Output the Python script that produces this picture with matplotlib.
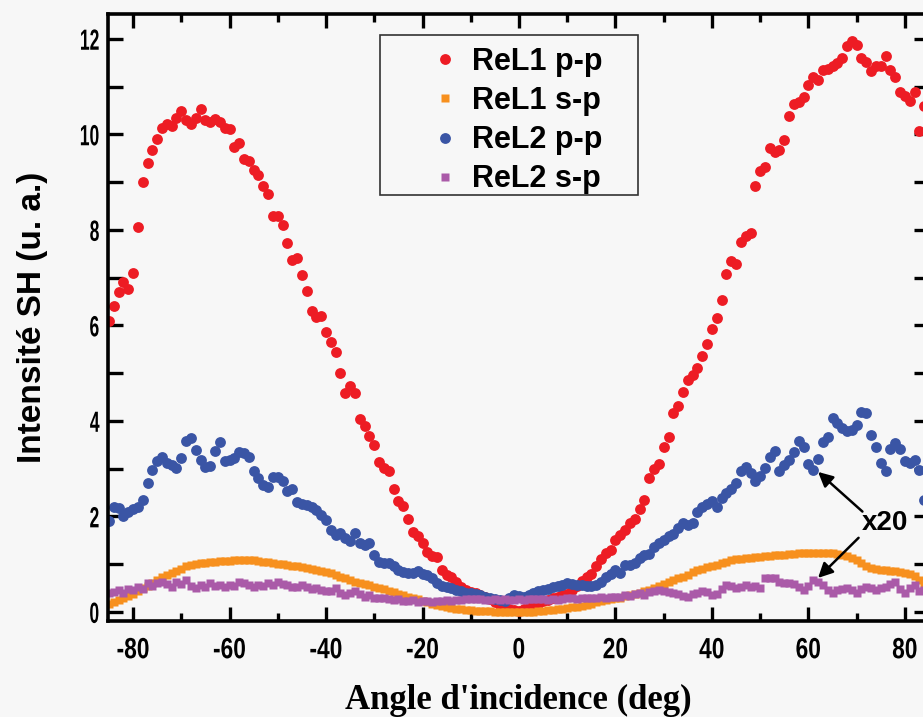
import numpy as np
import matplotlib.pyplot as plt
from matplotlib.ticker import MultipleLocator
from matplotlib.patheffects import AbstractPathEffect
from matplotlib.transforms import Affine2D
from matplotlib.patches import Rectangle

plt.rcParams['axes.unicode_minus'] = False

# data (angle grid, 1 deg step)
angle = np.arange(-85, 86, 1)

rel1_pp = [6.1, 6.4, 6.7, 6.9, 6.75, 7.1, 8.05, 9.0, 9.4, 9.67,
           9.9, 10.13, 10.21, 10.18, 10.34, 10.48, 10.29, 10.21, 10.35, 10.53,
           10.3, 10.26, 10.32, 10.26, 10.13, 10.11, 9.73, 9.81, 9.48, 9.43,
           9.26, 9.15, 8.91, 8.75, 8.28, 8.29, 8.1, 7.73, 7.36, 7.4,
           7.06, 6.71, 6.29, 6.18, 6.2, 5.86, 5.64, 5.44, 5.01, 4.58,
           4.73, 4.58, 4.04, 3.9, 3.69, 3.5, 3.13, 3.01, 2.95, 2.57,
           2.33, 2.22, 1.94, 1.68, 1.59, 1.44, 1.26, 1.17, 1.15, 0.87,
           0.77, 0.73, 0.63, 0.53, 0.46, 0.42, 0.40, 0.36, 0.32, 0.27,
           0.2, 0.14, 0.08, 0.05, 0.03, 0.02, 0.05, 0.08, 0.12, 0.16,
           0.22, 0.25, 0.28, 0.32, 0.35, 0.38, 0.45, 0.55, 0.65, 0.72,
           0.8, 0.95, 1.1, 1.23, 1.3, 1.5, 1.6, 1.72, 1.85, 1.95,
           2.15, 2.35, 2.8, 3.0, 3.1, 3.46, 3.67, 4.16, 4.3, 4.6,
           4.85, 4.95, 5.1, 5.35, 5.6, 5.92, 6.15, 6.52, 7.07, 7.35,
           7.28, 7.75, 7.86, 7.93, 8.92, 9.24, 9.31, 9.71, 9.62, 9.66,
           9.87, 10.39, 10.64, 10.67, 10.79, 11.04, 11.2, 11.14, 11.35, 11.37,
           11.42, 11.49, 11.6, 11.84, 11.95, 11.87, 11.6, 11.51, 11.32, 11.42,
           11.42, 11.63, 11.35, 11.2, 10.88, 10.8, 10.69, 10.88, 10.06, 10.6,
           10.4]

rel1_sp = [0.17, 0.2, 0.24, 0.29, 0.34, 0.38, 0.43, 0.49, 0.55, 0.61,
           0.66, 0.72, 0.77, 0.82, 0.86, 0.9, 0.95, 0.98, 1.0, 1.02,
           1.03, 1.05, 1.05, 1.06, 1.07, 1.07, 1.08, 1.09, 1.09, 1.09,
           1.08, 1.07, 1.05, 1.04, 1.02, 1.01, 1.0, 0.99, 0.97, 0.95,
           0.94, 0.92, 0.9, 0.88, 0.85, 0.83, 0.81, 0.78, 0.74, 0.71,
           0.67, 0.63, 0.61, 0.59, 0.56, 0.53, 0.5, 0.47, 0.44, 0.41,
           0.38, 0.35, 0.32, 0.29, 0.26, 0.23, 0.2, 0.17, 0.15, 0.13,
           0.11, 0.09, 0.07, 0.05, 0.04, 0.03, 0.02, 0.02, 0.01, 0.01,
           0.0, 0.0, -0.01, -0.01, -0.01, -0.01, -0.01, 0.0, 0.0, 0.01,
           0.02, 0.03, 0.04, 0.05, 0.06, 0.08, 0.1, 0.11, 0.13, 0.15,
           0.17, 0.2, 0.22, 0.24, 0.26, 0.28, 0.3, 0.33, 0.35, 0.37,
           0.4, 0.43, 0.46, 0.5, 0.54, 0.58, 0.62, 0.66, 0.7, 0.74,
           0.78, 0.83, 0.87, 0.9, 0.93, 0.96, 0.99, 1.02, 1.05, 1.08,
           1.1, 1.11, 1.12, 1.13, 1.14, 1.15, 1.16, 1.17, 1.18, 1.19,
           1.2, 1.21, 1.22, 1.23, 1.23, 1.24, 1.24, 1.24, 1.24, 1.23,
           1.23, 1.22, 1.2, 1.17, 1.13, 1.08, 1.02, 0.96, 0.92, 0.9,
           0.88, 0.87, 0.86, 0.85, 0.84, 0.82, 0.8, 0.75, 0.66, 0.58,
           0.52]

rel2_pp = [1.9, 2.2, 2.17, 2.0, 2.1, 2.16, 2.19, 2.35, 2.7, 2.97,
           3.15, 3.25, 3.11, 3.08, 3.01, 3.22, 3.57, 3.64, 3.39, 3.18,
           3.04, 3.06, 3.36, 3.55, 3.15, 3.18, 3.22, 3.34, 3.32, 3.25,
           2.94, 2.8, 2.66, 2.61, 2.82, 2.83, 2.73, 2.54, 2.57, 2.29,
           2.26, 2.24, 2.2, 2.14, 2.03, 1.93, 1.72, 1.61, 1.66, 1.54,
           1.49, 1.66, 1.45, 1.4, 1.44, 1.19, 1.05, 1.03, 1.02, 0.95,
           0.88, 0.84, 0.81, 0.81, 0.86, 0.8, 0.77, 0.71, 0.6, 0.55,
           0.52, 0.5, 0.46, 0.43, 0.4, 0.39, 0.37, 0.35, 0.32, 0.29,
           0.26, 0.25, 0.23, 0.3, 0.36, 0.33, 0.32, 0.36, 0.4, 0.43,
           0.45, 0.47, 0.53, 0.55, 0.57, 0.6, 0.58, 0.57, 0.56, 0.55,
           0.55, 0.56, 0.62, 0.72, 0.8, 0.88, 0.82, 0.98, 0.98, 1.03,
           1.12, 1.18, 1.21, 1.35, 1.45, 1.5, 1.58, 1.63, 1.75, 1.87,
           1.82, 1.86, 2.1, 2.2, 2.25, 2.33, 2.2, 2.38, 2.48, 2.58,
           2.7, 2.95, 3.03, 2.9, 2.74, 2.85, 3.01, 3.25, 3.36, 2.94,
           3.08, 3.18, 3.35, 3.57, 3.46, 3.1, 2.97, 3.2, 3.55, 3.67,
           4.06, 3.95, 3.85, 3.78, 3.81, 3.92, 4.19, 4.16, 3.7, 3.46,
           3.11, 2.94, 3.4, 3.53, 3.4, 3.15, 3.11, 3.18, 2.97, 2.35,
           2.3]

rel2_sp = [0.39, 0.42, 0.46, 0.4, 0.47, 0.45, 0.53, 0.48, 0.6, 0.55,
           0.6, 0.63, 0.58, 0.53, 0.63, 0.58, 0.67, 0.55, 0.5, 0.57,
           0.53, 0.6, 0.55, 0.57, 0.53, 0.57, 0.55, 0.63, 0.6, 0.57,
           0.53, 0.57, 0.55, 0.6, 0.57, 0.63, 0.58, 0.57, 0.52, 0.53,
           0.56, 0.53, 0.48, 0.5, 0.46, 0.44, 0.43, 0.5, 0.4, 0.36,
           0.4, 0.43, 0.37, 0.32, 0.35, 0.3, 0.29, 0.3, 0.26, 0.25,
           0.26, 0.23, 0.22, 0.24, 0.21, 0.22, 0.23, 0.21, 0.22, 0.22,
           0.24, 0.23, 0.25, 0.24, 0.26, 0.27, 0.26, 0.27, 0.25, 0.25,
           0.27, 0.24, 0.26, 0.25, 0.24, 0.26, 0.25, 0.27, 0.26, 0.27,
           0.26, 0.24, 0.26, 0.25, 0.27, 0.29, 0.28, 0.27, 0.29, 0.28,
           0.3, 0.29, 0.31, 0.3, 0.32, 0.31, 0.32, 0.35, 0.34, 0.37,
           0.39, 0.36, 0.41, 0.44, 0.46, 0.43, 0.41, 0.39, 0.37, 0.34,
           0.32, 0.38, 0.4, 0.43, 0.41, 0.36, 0.38, 0.48, 0.57, 0.54,
           0.5, 0.53, 0.57, 0.53, 0.55, 0.5, 0.71, 0.7, 0.71, 0.62,
           0.6, 0.6, 0.58, 0.53, 0.46, 0.55, 0.67, 0.62, 0.57, 0.45,
           0.39, 0.46, 0.48, 0.5, 0.45, 0.39, 0.48, 0.53, 0.5, 0.46,
           0.5, 0.53, 0.58, 0.63, 0.48, 0.39, 0.5, 0.57, 0.43, 0.45,
           0.4]

labels = ["ReL1 p-p", "ReL1 s-p", "ReL2 p-p", "ReL2 s-p"]
colors = ["#ed1c24", "#f7901e", "#3a55a5", "#aa5aa8"]
xticks = [-80, -60, -40, -20, 0, 20, 40, 60, 80]
yticks = [0, 2, 4, 6, 8, 10, 12]


class Squeeze(AbstractPathEffect):
    # narrow the glyphs horizontally (tick labels use a condensed face)
    def __init__(self, sx, anchor="center"):
        super().__init__()
        self.sx = sx
        self.anchor = anchor

    def draw_path(self, renderer, gc, tpath, affine, rgbFace=None):
        if len(tpath.vertices) == 0:
            return
        xs = affine.transform(tpath.vertices)[:, 0]
        if self.anchor == "right":
            x0 = xs.max()
        else:
            x0 = 0.5 * (xs.min() + xs.max())
        t = affine + Affine2D().translate(-x0, 0).scale(self.sx, 1).translate(x0, 0)
        renderer.draw_path(gc, tpath, t, rgbFace)


W, H = 923, 717
bg = "#f7f7f7"
fig = plt.figure(figsize=(W / 100, H / 100), dpi=100, facecolor=bg)
ax = fig.add_axes([0.117, 0.134, 0.8895, 0.8466], facecolor=bg)

ax.plot(angle, rel1_pp, "o", ms=7.8, color=colors[0], mec="none", label=labels[0])
ax.plot(angle, rel1_sp, "s", ms=6.0, color=colors[1], mec="none", label=labels[1])
ax.plot(angle, rel2_pp, "o", ms=7.8, color=colors[2], mec="none", label=labels[2])
ax.plot(angle, rel2_sp, "s", ms=5.3, color=colors[3], mec="none", label=labels[3])

ax.set_xlim(-85.2, 85.0)
ax.set_ylim(-0.19, 12.52)
ax.set_xticks(xticks)
ax.set_yticks(yticks)
ax.xaxis.set_minor_locator(MultipleLocator(10))
ax.yaxis.set_minor_locator(MultipleLocator(1))
ax.tick_params(which="both", direction="in", top=True, right=True, width=2.4)
ax.tick_params(axis="x", which="major", length=10, pad=11)
ax.tick_params(axis="x", which="minor", length=6)
ax.tick_params(axis="y", which="both", length=11, pad=6)
for s in ax.spines.values():
    s.set_linewidth(2.6)

for lab in ax.get_xticklabels():
    lab.set_family("Liberation Sans")
    lab.set_fontweight("bold")
    lab.set_fontsize(21)
    lab.set_path_effects([Squeeze(0.78)])
for lab in ax.get_yticklabels():
    lab.set_family("Liberation Sans")
    lab.set_fontweight("bold")
    lab.set_fontsize(21)
    lab.set_path_effects([Squeeze(0.6, "right")])

ax.set_xlabel("Angle d'incidence (deg)", family="Liberation Serif",
              fontweight="bold", fontsize=25, labelpad=14)
ax.set_ylabel("Intensité SH (u. a.)", family="Liberation Sans",
              fontweight="bold", fontsize=24)
ax.yaxis.set_label_coords(-0.073, 0.50)

# legend: entries placed without frame, box drawn separately
leg = ax.legend(loc="upper left", bbox_to_anchor=(430 / W, 1 - 47 / H),
                bbox_transform=fig.transFigure, frameon=False,
                prop={"family": "Liberation Sans", "weight": "bold", "size": 22},
                handletextpad=0.38, labelspacing=0.3, borderpad=0,
                handlelength=1.0, borderaxespad=0)
fig.patches.append(Rectangle((380 / W, 1 - 195 / H), 258 / W, 160 / H,
                             transform=fig.transFigure, fill=False,
                             edgecolor="#333333", lw=1.2, zorder=5))

ax.annotate("", xy=(62.0, 2.93), xytext=(71.2, 2.1),
            arrowprops=dict(arrowstyle="-|>", color="black", lw=1.8,
                            mutation_scale=22, shrinkA=0, shrinkB=0))
ax.annotate("", xy=(62.0, 0.71), xytext=(70.4, 1.55),
            arrowprops=dict(arrowstyle="-|>", color="black", lw=1.8,
                            mutation_scale=22, shrinkA=0, shrinkB=0))
ax.text(75.9, 1.86, "x20", family="Liberation Sans", fontweight="bold",
        fontsize=20, ha="center", va="center")

fig.savefig("out.png", dpi=100, facecolor=bg)
